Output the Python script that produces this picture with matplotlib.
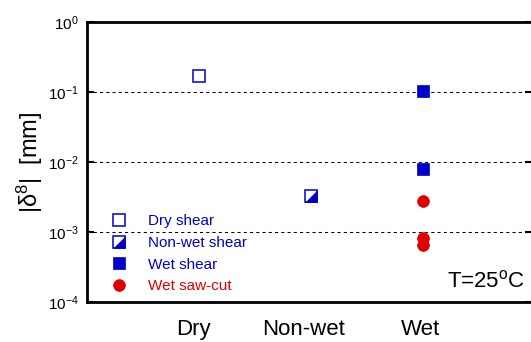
import matplotlib
matplotlib.use("Agg")
import matplotlib.pyplot as plt
from matplotlib.lines import Line2D
from matplotlib.legend_handler import HandlerTuple

plt.rcParams['font.family'] = ['Liberation Sans', 'DejaVu Sans']
plt.rcParams['mathtext.fontset'] = 'custom'
plt.rcParams['mathtext.rm'] = 'Liberation Sans'
plt.rcParams['mathtext.it'] = 'Liberation Sans:italic'
plt.rcParams['mathtext.bf'] = 'Liberation Sans:bold'

# ---- data ----
categories = ["Dry", "Non-wet", "Wet"]
category_label_pos = [0.955, 1.93, 2.98]
dry_shear_x = [1]
dry_shear_y = [0.169]
nonwet_shear_x = [2]
nonwet_shear_y = [0.00327]
wet_shear_x = [3, 3]
wet_shear_y = [0.103, 0.0079]
wet_sawcut_x = [3, 3, 3]
wet_sawcut_y = [0.00277, 0.00082, 0.00065]
ytick_vals = [1e-4, 1e-3, 1e-2, 1e-1, 1e0]
ytick_labels = [r'$\mathregular{10^{-4}}$', r'$\mathregular{10^{-3}}$',
                r'$\mathregular{10^{-2}}$', r'$\mathregular{10^{-1}}$',
                r'$\mathregular{10^{0}}$']
grid_vals = [1e-3, 1e-2, 1e-1]

BLUE = '#0000CC'
RED = '#E00000'

W, H = 531, 342
fig = plt.figure(figsize=(W / 100, H / 100), dpi=100)
ax = fig.add_axes([87 / W, (H - 302) / H, 444.5 / W, 280 / H])

ax.set_yscale('log')
ax.set_ylim(1e-4, 1e0)
ax.set_xlim(0, 3.97)

for g in grid_vals:
    ax.axhline(g, color='black', lw=0.75, ls=(0, (3, 3)), zorder=1)

ms = 8.5
l1, = ax.plot(dry_shear_x, dry_shear_y, ls='none', marker='s', ms=ms,
              mfc='white', mec=BLUE, mew=1.1, zorder=3)
tri = [(-1, -1), (1, -1), (1, 1)]
l2a, = ax.plot(nonwet_shear_x, nonwet_shear_y, ls='none', marker=tri, ms=ms,
               mfc=BLUE, mec=BLUE, mew=0.5, zorder=3)
l2b, = ax.plot(nonwet_shear_x, nonwet_shear_y, ls='none', marker='s', ms=ms,
               mfc='none', mec=BLUE, mew=1.1, zorder=4)
l3, = ax.plot(wet_shear_x, wet_shear_y, ls='none', marker='s', ms=9,
              mfc=BLUE, mec=BLUE, mew=0.5, zorder=3)
l4, = ax.plot(wet_sawcut_x, wet_sawcut_y, ls='none', marker='o', ms=8.5,
              mfc=RED, mec=RED, mew=0.5, zorder=3)

for s in ax.spines.values():
    s.set_linewidth(2)

ax.set_yticks(ytick_vals)
ax.set_yticklabels(ytick_labels)
ax.yaxis.set_minor_locator(matplotlib.ticker.NullLocator())
ax.tick_params(axis='y', which='major', direction='in', length=5, width=1.5,
               labelsize=11, pad=6, right=True)
ax.set_xticks(category_label_pos)
ax.set_xticklabels(categories)
ax.tick_params(axis='x', length=0, labelsize=16, pad=12)

ax.set_ylabel(r'$\mathregular{|δ^{8}|}$  [mm]', fontsize=17, labelpad=2)

ax.text(0.985, 0.075, r'T=25$\mathregular{^{o}}$C', transform=ax.transAxes,
        ha='right', va='center', fontsize=16)

leg = ax.legend([l1, (l2a, l2b), l3, l4],
                ['Dry shear', 'Non-wet shear', 'Wet shear', 'Wet saw-cut'],
                handler_map={tuple: HandlerTuple(ndivide=1, pad=0)},
                loc='upper left', bbox_to_anchor=(0.055, 0.313),
                frameon=False, fontsize=11, handlelength=1.0,
                handletextpad=1.4, borderpad=0, labelspacing=0.5,
                borderaxespad=0)
for t, c in zip(leg.get_texts(), [BLUE, BLUE, BLUE, RED]):
    t.set_color(c)

fig.savefig('out.png', dpi=100)
